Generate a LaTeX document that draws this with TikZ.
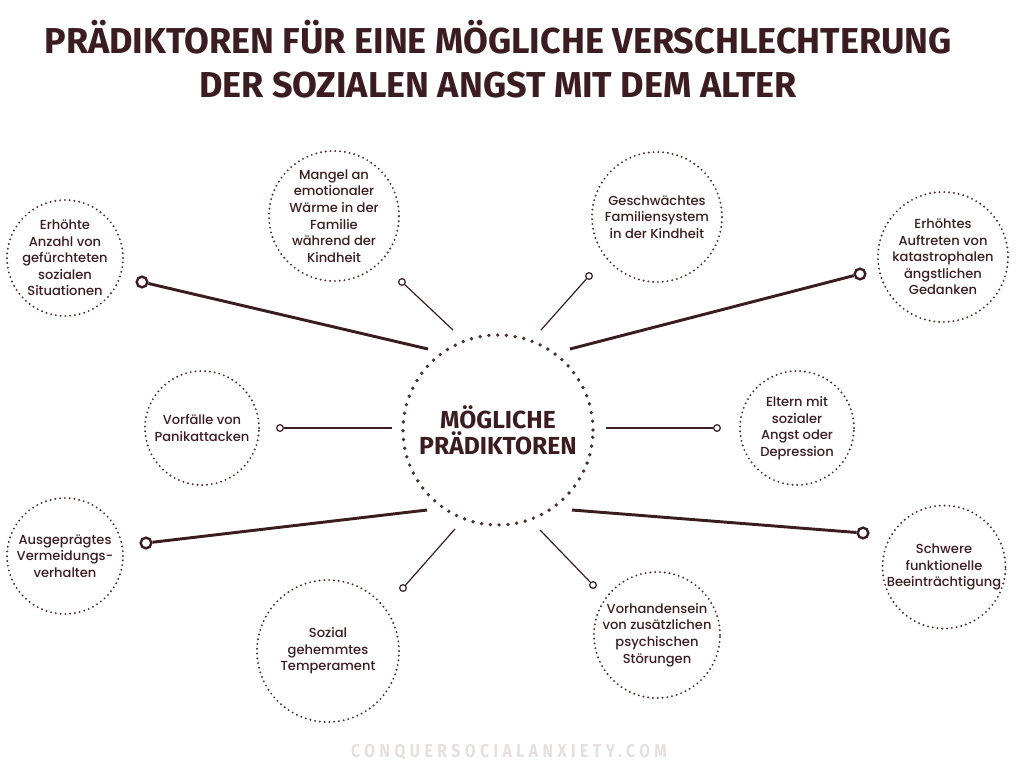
\documentclass[tikz,border=0pt]{standalone}
\usepackage{fontspec}
\setmainfont{Poppins Medium}
\newfontfamily\condfont{Fira Sans}
\newfontfamily\markfont[FakeStretch=0.84,LetterSpace=24]{Fira Sans}
\definecolor{ink}{HTML}{3B1C21}
\definecolor{dotc}{HTML}{4B2B2B}
\definecolor{wmark}{HTML}{E7DFDF}
\tikzset{%
  hub/.style={circle, minimum size=142.5pt, draw=dotc, line width=2.8pt,
    line cap=round, dash pattern=on 0pt off 6.6pt, align=center, text=ink,
    font=\condfont\bfseries\fontsize{18.5}{19.5}\selectfont},
  pred/.style={circle, minimum size=#1, inner sep=0pt, draw=dotc,
    line width=1.6pt, line cap=round, dash pattern=on 0pt off 3.6pt,
    align=center, text=ink, font=\fontsize{9.8}{12.4}\selectfont},
  pred/.default=90pt,
  endbig/.style={circle, minimum size=8pt, inner sep=0pt, draw=ink,
    line width=1.8pt, fill=white},
  endsmall/.style={circle, minimum size=5pt, inner sep=0pt, draw=ink,
    line width=0.9pt, fill=white},
  biglink/.style={line width=2.2pt, draw=ink},
  midlink/.style={line width=1.5pt, draw=ink},
  thinlink/.style={line width=0.9pt, draw=ink},
  headline/.style={anchor=base, text=ink,
    font=\condfont\bfseries\fontsize{27}{27}\selectfont}
}
\begin{document}
\begin{tikzpicture}[x=0.75pt, y=-0.75pt]

    % page frame in pixels of the reference (1024 x 768)
    \useasboundingbox (0,0) rectangle (1024,768);

    % title
    \node[headline] (t1) at (498,53) {PRÄDIKTOREN FÜR EINE MÖGLICHE VERSCHLECHTERUNG};
    \node[headline] (t2) at (498,97) {DER SOZIALEN ANGST MIT DEM ALTER};

    % the hub
    \node[hub] (hub) at (498,430) {MÖGLICHE\\PRÄDIKTOREN};

    % the predictors, clockwise from top left
    \node[pred=87pt] (p1) at (65,258) {Erhöhte\\Anzahl von\\gefürchteten\\sozialen\\Situationen};
    \node[pred=97.5pt] (p2) at (334,216) {Mangel an\\emotionaler\\Wärme in der\\Familie\\während der\\Kindheit};
    \node[pred=97.5pt] (p3) at (657,217) {Geschwächtes\\Familiensystem\\in der Kindheit};
    \node[pred=97.5pt] (p4) at (943,257) {Erhöhtes\\Auftreten von\\katastrophalen\\ängstlichen\\Gedanken};
    \node[pred=85.5pt] (p5) at (202,428) {Vorfälle von\\Panikattacken};
    \node[pred=85.5pt] (p6) at (797,428) {Eltern mit\\sozialer\\Angst oder\\Depression};
    \node[pred=87pt] (p7) at (65,556) {Ausgeprägtes\\Vermeidungs-\\verhalten};
    \node[pred=106.5pt] (p8) at (328,651) {Sozial\\gehemmtes\\Temperament};
    \node[pred=94.5pt] (p9) at (657,635) {Vorhandensein\\von zusätzlichen\\psychischen\\Störungen};
    \node[pred=91.5pt] (p10) at (944,567) {Schwere\\funktionelle\\Beeinträchtigung};

    % line ends near the hub
    \coordinate (s1) at (428,349);
    \coordinate (s2) at (453,330);
    \coordinate (s3) at (541,330);
    \coordinate (s4) at (570,349);
    \coordinate (s5) at (392,428);
    \coordinate (s6) at (606,428);
    \coordinate (s7) at (427,510);
    \coordinate (s8) at (455,529);
    \coordinate (s9) at (540,530);
    \coordinate (s10) at (572,510);

    % open circles at the outer ends
    \node[endbig] (e1) at (142,282) {};
    \node[endsmall] (e2) at (402,282) {};
    \node[endsmall] (e3) at (589,276) {};
    \node[endbig] (e4) at (860,274) {};
    \node[endsmall] (e5) at (280,428) {};
    \node[endsmall] (e6) at (717,428) {};
    \node[endbig] (e7) at (146,543) {};
    \node[endsmall] (e8) at (403,588) {};
    \node[endsmall] (e9) at (593,585) {};
    \node[endbig] (e10) at (863,533) {};

    % connectors
    \draw[biglink] (s1) -- (e1);
    \draw[thinlink] (s2) -- (e2);
    \draw[thinlink] (s3) -- (e3);
    \draw[biglink] (s4) -- (e4);
    \draw[midlink] (s5) -- (e5);
    \draw[midlink] (s6) -- (e6);
    \draw[biglink] (s7) -- (e7);
    \draw[thinlink] (s8) -- (e8);
    \draw[thinlink] (s9) -- (e9);
    \draw[biglink] (s10) -- (e10);

    % footer
    \node[anchor=base, text=wmark, font=\markfont\bfseries\fontsize{14}{14}\selectfont] (web) at (509,757) {CONQUERSOCIALANXIETY.COM};

\end{tikzpicture}
\end{document}
